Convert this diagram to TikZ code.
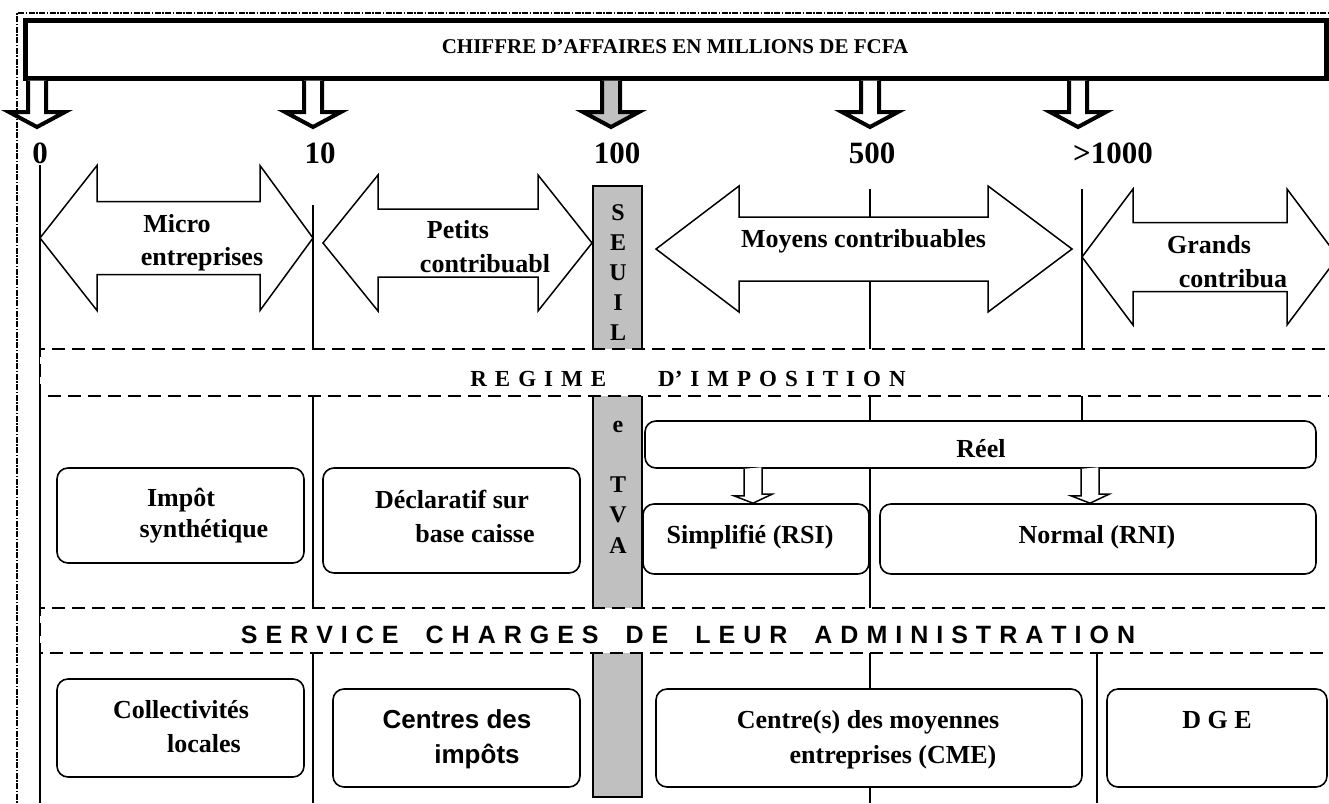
\documentclass[tikz,border=0pt]{standalone}
\usepackage{fontspec}
\setmainfont{Liberation Serif}
\newfontfamily\arialf{Liberation Sans}
\usetikzlibrary{calc}
\definecolor{seuilgray}{RGB}{192,192,192}

\newcommand\dblarrow[7]{%
  \draw[dblarr] (#1,#3) -- ({#1+#4},{#3-#5}) -- ({#1+#4},{#3-#6}) -- ({#2-#7},{#3-#6}) -- ({#2-#7},{#3-#5}) -- (#2,#3) -- ({#2-#7},{#3+#5}) -- ({#2-#7},{#3+#6}) -- ({#1+#4},{#3+#6}) -- ({#1+#4},{#3+#5}) -- cycle;}
\newcommand\bigdown[2]{%
  \draw[bigarrow,fill=#2] ($(#1 |- bar.south)+(-9,0)$) -- ($(#1)+(-9,-15)$) -- ($(#1)+(-28,-15)$) -- (#1) -- ($(#1)+(28,-15)$) -- ($(#1)+(9,-15)$) -- ($(#1 |- bar.south)+(9,0)$);}

\begin{document}
\begin{tikzpicture}[x=1pt,y=-1pt,
  frame/.style={line width=2pt, dash pattern=on 6pt off 1.5pt on 1.5pt off 1.5pt},
  barbox/.style={draw, line width=5pt, minimum width=1300.5pt, minimum height=57.5pt, inner sep=0pt},
  bigarrow/.style={line width=4pt, line join=miter},
  vline/.style={line width=1.6pt},
  dblarr/.style={draw, fill=white, line width=1.5pt, line join=miter},
  band/.style={draw, fill=white, line width=1.5pt, dash pattern=on 13pt off 7pt},
  rbox/.style={draw, fill=white, line width=1.6pt, rounded corners=11pt, inner sep=0pt},
  smallarrow/.style={draw, fill=white, line width=1.5pt, line join=miter},
  lbl/.style={font=\bfseries\fontsize{26}{30}\selectfont, anchor=base, inner sep=0pt},
  slbl/.style={font=\arialf\bfseries\fontsize{26}{30}\selectfont, anchor=base, inner sep=0pt},
  num/.style={font=\bfseries\fontsize{31}{36}\selectfont, anchor=base, inner sep=0pt},
  vlet/.style={font=\bfseries\fontsize{24}{28}\selectfont, anchor=base, inner sep=0pt},
]
\useasboundingbox (0,0) rectangle (1329,803);
\clip (0,0) rectangle (1329,803);

% outer frame
\draw[frame] (17,810) -- (17,13) -- (1335,13);

% top bar
\node[barbox] (bar) at (675.75,49.25) {};
\node[font=\bfseries\fontsize{21}{25}\selectfont, anchor=base, inner sep=0pt] (title) at (675,53) {CHIFFRE D’AFFAIRES EN MILLIONS DE FCFA};

% down arrows
\coordinate (t0) at (37,127);
\coordinate (t10) at (313,127);
\coordinate (t100) at (611,127);
\coordinate (t500) at (870,127);
\coordinate (t1000) at (1078,127);
\bigdown{t0}{white}
\bigdown{t10}{white}
\bigdown{t100}{seuilgray}
\bigdown{t500}{white}
\bigdown{t1000}{white}

% numbers
\node[num] (n0) at (40,163) {0};
\node[num] (n10) at (320,163) {10};
\node[num] (n100) at (617,163) {100};
\node[num] (n500) at (872,163) {500};
\node[num] (n1000) at (1113,163) {>1000};

% vertical lines
\draw[vline] (40,165) -- (40,803);
\draw[vline] (313,205) -- (313,803);
\draw[vline] (870,189) -- (870,803);
\draw[vline] (1082,189) -- (1082,421);
\draw[vline] (1097,653) -- (1097,803);

% seuil column
\draw[fill=seuilgray, line width=2pt] (593,186) rectangle (642,797);

% double arrows
\dblarrow{40}{313}{238}{57}{72.5}{36.5}{53}
\dblarrow{323}{592}{243}{55}{68}{34}{54}
\dblarrow{656}{1072}{249}{83}{63}{32}{84}
\dblarrow{1082}{1338}{257}{51}{68}{34.5}{51}

% bands
\draw[band] (1345,349) -- (40,349) -- (40,396) -- (1345,396);
\draw[band] (1345,608) -- (40,608) -- (40,653) -- (1345,653);
\node[font=\bfseries\fontsize{23}{28}\selectfont, anchor=base, inner sep=0pt] (regime) at (688,386)
  {\spaceskip=8pt R E G I M E\hspace{52pt}D’ I M P O S I T I O N};
\node[font=\arialf\bfseries\fontsize{25}{30}\selectfont, anchor=base, inner sep=0pt] (service) at (688,643)
  {\spaceskip=8pt S E R V I C E\hspace{27pt}C H A R G E S\hspace{27pt}D E\hspace{27pt}L E U R\hspace{27pt}A D M I N I S T R A T I O N};

% column letters
\foreach \l/\yy [count=\i] in {S/220,E/250.5,U/280.5,I/310,L/340}
  \node[vlet] (s\i) at (618,\yy) {\l};
\node[vlet] (ce) at (618,432) {e};
\node[vlet] (ct) at (618,492) {T};
\node[vlet] (cv) at (618,522) {V};
\node[vlet] (ca) at (618,553) {A};

% boxes
\node[rbox, minimum width=247pt, minimum height=95pt] (impotbox) at (180.5,515.5) {};
\node[rbox, minimum width=257pt, minimum height=105pt] (declbox) at (451.5,520.5) {};
\node[rbox, minimum width=671pt, minimum height=47pt] (reelbox) at (980.5,444.5) {};
\node[rbox, minimum width=226pt, minimum height=70pt] (rsibox) at (756,539) {};
\node[rbox, minimum width=436pt, minimum height=70pt] (rnibox) at (1098,539) {};
\node[rbox, minimum width=247pt, minimum height=98pt] (collbox) at (180.5,728) {};
\node[rbox, minimum width=247pt, minimum height=98pt] (cdibox) at (456.5,738) {};
\node[rbox, minimum width=426pt, minimum height=98pt] (cmebox) at (869,738) {};
\node[rbox, minimum width=220pt, minimum height=98pt] (dgebox) at (1217,738) {};

% small arrows
\draw[smallarrow] ($(reelbox.south)+(-236.5,0)$) -- ++(0,27) -- ++(-10,0) -- ($(rsibox.north)+(-3,0)$) -- ++(19,-9) -- ++(-10,0) -- ++(0,-27);
\draw[smallarrow] ($(reelbox.south)+(100.5,0)$) -- ++(0,27) -- ++(-10,0) -- ($(rnibox.north)+(-8,0)$) -- ++(19,-9) -- ++(-10,0) -- ++(0,-27);

% arrow labels
\node[lbl] (micro1) at (177,232) {Micro};
\node[lbl] (micro2) at (202,265) {entreprises};
\node[lbl] (pet1) at (458,238) {Petits};
\node[lbl] (pet2) at (485,272) {contribuabl};
\node[lbl] (moy) at (863.5,247) {Moyens contribuables};
\node[lbl] (gr1) at (1209,253) {Grands};
\node[lbl] (gr2) at (1233,287) {contribua};

% box labels
\node[lbl] (imp1) at (181,506) {Impôt};
\node[lbl] (imp2) at (204,537) {synthétique};
\node[lbl] (dec1) at (452,508) {Déclaratif sur};
\node[lbl] (dec2) at (475,542) {base caisse};
\node[lbl] (reel) at (981,457) {Réel};
\node[lbl] (rsi) at (750,543) {Simplifié (RSI)};
\node[lbl] (rni) at (1097,543) {Normal (RNI)};
\node[lbl] (col1) at (181,718) {Collectivités};
\node[lbl] (col2) at (204,752) {locales};
\node[slbl] (cdi1) at (457,728) {Centres des};
\node[slbl] (cdi2) at (477,763) {impôts};
\node[lbl] (cme1) at (868,728) {Centre(s) des moyennes};
\node[lbl] (cme2) at (893,763) {entreprises (CME)};
\node[lbl] (dge) at (1217,728) {D G E};
\end{tikzpicture}
\end{document}
